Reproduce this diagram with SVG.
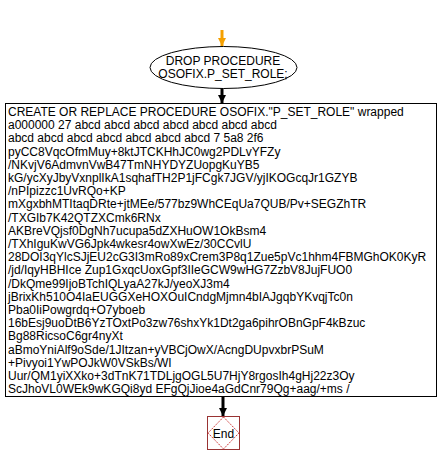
<svg xmlns="http://www.w3.org/2000/svg" width="444" height="464" viewBox="0 0 444 464">
<style>
text{font-family:"Liberation Sans",Arial,sans-serif;font-size:12px;fill:#000}
.c{text-anchor:middle}
.n{fill:#fff;stroke:#000;stroke-width:1}
.k{stroke:#000;stroke-width:3;fill:none}
.o{stroke:#f5a000;stroke-width:3;fill:none}
</style>
<defs>
<marker id="ab" markerWidth="8" markerHeight="9" refX="8" refY="4" orient="auto" markerUnits="userSpaceOnUse" viewBox="0 0 8 8">
<path d="M0,0 L8,4 L0,8 Z" fill="#000"/>
</marker>
<marker id="ao" markerWidth="8" markerHeight="9" refX="8" refY="4" orient="auto" markerUnits="userSpaceOnUse" viewBox="0 0 8 8">
<path d="M0,0 L8,4 L0,8 Z" fill="#f5a000"/>
</marker>
</defs>
<g id="connectors">
<line class="o" x1="222" y1="30" x2="222" y2="46" marker-end="url(#ao)"/>
<line class="k" x1="222" y1="88" x2="222" y2="103" marker-end="url(#ab)"/>
<line class="k" x1="223" y1="397" x2="223" y2="416" marker-end="url(#ab)"/>
</g>
<g id="start">
<ellipse class="n" cx="223.5" cy="67.5" rx="73.5" ry="21"/>
<text class="c" x="223" y="65">DROP PROCEDURE</text>
<text class="c" x="223" y="78">OSOFIX.P_SET_ROLE;</text>
</g>
<g id="proc">
<rect class="n" x="5.5" y="103.5" width="431" height="293"/>
<text x="8" y="116">CREATE OR REPLACE PROCEDURE OSOFIX."P_SET_ROLE" wrapped</text>
<text x="8" y="129.2">a000000 27 abcd abcd abcd abcd abcd abcd abcd</text>
<text x="8" y="142.4">abcd abcd abcd abcd abcd abcd abcd 7 5a8 2f6</text>
<text x="8" y="155.6">pyCC8VqcOfmMuy+8ktJTCKHhJC0wg2PDLvYFZy</text>
<text x="8" y="168.8">/NKvjV6AdmvnVwB47TmNHYDYZUopgKuYB5</text>
<text x="8" y="182">kG/ycXyJbyVxnplIkA1sqhafTH2P1jFCgk7JGV/yjIKOGcqJr1GZYB</text>
<text x="8" y="195.2">/nPIpizzc1UvRQo+KP</text>
<text x="8" y="208.4">mXgxbhMTItaqDRte+jtMEe/577bz9WhCEqUa7QUB/Pv+SEGZhTR</text>
<text x="8" y="221.6">/TXGIb7K42QTZXCmk6RNx</text>
<text x="8" y="234.8">AKBreVQjsf0DgNh7ucupa5dZXHuOW1OkBsm4</text>
<text x="8" y="248">/TXhIguKwVG6Jpk4wkesr4owXwEz/30CCvlU</text>
<text x="8" y="261.2">28DOI3qYlcSJjEU2cG3I3mRo89xCrem3P8q1Zue5pVc1hhm4FBMGhOK0KyR</text>
<text x="8" y="274.4">/jd/IqyHBHIce Zup1GxqcUoxGpf3IIeGCW9wHG7ZzbV8JujFUO0</text>
<text x="8" y="287.6">/DkQme99IjoBTchIQLyaA27kJ/yeoXJ3m4</text>
<text x="8" y="300.8">jBrixKh510O4IaEUGGXeHOXOuICndgMjmn4bIAJgqbYKvqjTc0n</text>
<text x="8" y="314">Pba0IiPowgrdq+O7yboeb</text>
<text x="8" y="327.2">16bEsj9uoDtB6YzTOxtPo3zw76shxYk1Dt2ga6pihrOBnGpF4kBzuc</text>
<text x="8" y="340.4">Bg88RicsoC6gr4nyXt</text>
<text x="8" y="353.6">aBmoYniAlf9oSde/1JItzan+yVBCjOwX/AcngDUpvxbrPSuM</text>
<text x="8" y="366.8">+Pivyoi1YwPOJkW0VSkBs/WI</text>
<text x="8" y="380">Uur/QM1yiXXko+3dTnK71TDLjgOGL5U7HjY8rgosIh4gHj22z3Oy</text>
<text x="8" y="393.2">ScJhoVL0WEk9wKGQi8yd EFgQjJioe4aGdCnr79Qg+aag/+ms /</text>
</g>
<g id="end">
<rect x="207.5" y="416.5" width="32" height="33" fill="#fff" stroke="#993333" stroke-width="1"/>
<path d="M223.5,417 L239,433 L223.5,449 L208,433 Z" fill="none" stroke="#cc3333" stroke-width="1" stroke-dasharray="1.5,1"/>
<text class="c" x="223.5" y="437.5">End</text>
</g>
</svg>
